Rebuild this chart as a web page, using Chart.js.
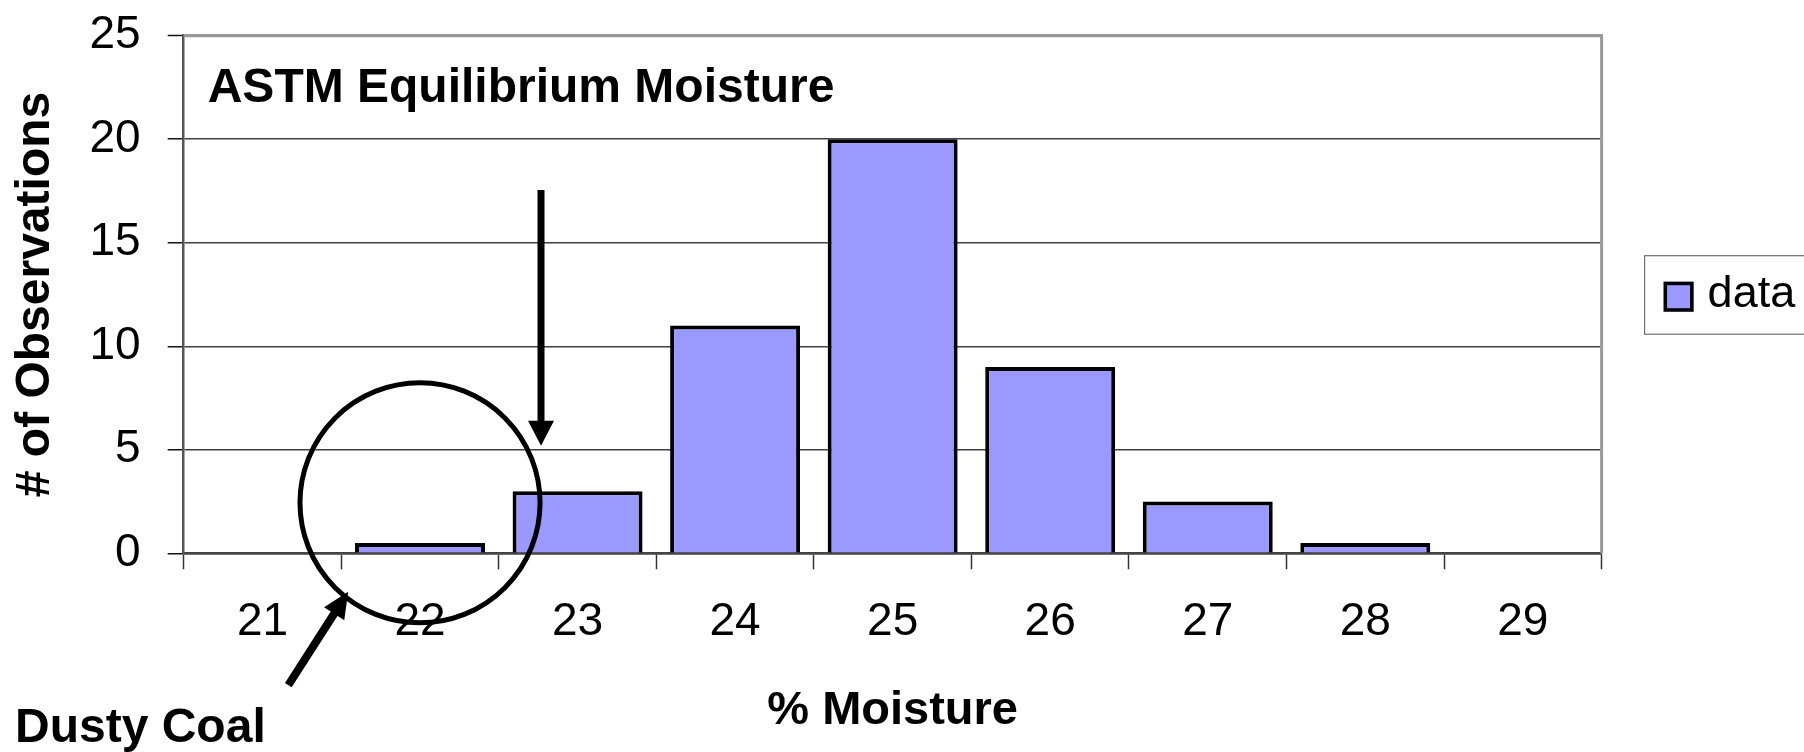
<!DOCTYPE html>
<html>
<head>
<meta charset="utf-8">
<title>ASTM Equilibrium Moisture</title>
<script src="https://cdn.jsdelivr.net/npm/chart.js@4/dist/chart.umd.min.js"></script>
<style>
  html, body { margin: 0; padding: 0; background: #ffffff; }
  #wrap { width: 1804px; height: 752px; }
</style>
</head>
<body>
<div id="wrap"><canvas id="chart" width="1804" height="752"></canvas></div>
<script>
// Histogram of equilibrium moisture results
const categories = ['21', '22', '23', '24', '25', '26', '27', '28', '29'];
const counts = [0, 0.5, 3, 11, 20, 9, 2.5, 0.5, 0];
const yTicks = [0, 5, 10, 15, 20, 25];
const seriesName = 'data';
const chartTitle = 'ASTM Equilibrium Moisture';
const xTitle = '% Moisture';
const yTitle = '# of Observations';
const noteText = 'Dusty Coal';

// Annotation geometry in data space: x as category index, y as count
const ringCenter = { x: 1.0, y: 2.44 };
const ringRadius = 0.762;                       // in category widths
const downArrow = { from: { x: 1.768, y: 17.55 }, to: { x: 1.768, y: 5.2 } };
const noteArrow = { from: { x: 0.164, y: -6.37 }, to: { x: 0.544, y: -1.86 } };

const FONT = "'Liberation Sans', Arial, Helvetica, sans-serif";

function drawArrow(ctx, x1, y1, x2, y2, shaft, headLen, headWidth) {
  const ang = Math.atan2(y2 - y1, x2 - x1);
  const bx = x2 - Math.cos(ang) * headLen;
  const by = y2 - Math.sin(ang) * headLen;
  ctx.save();
  ctx.strokeStyle = '#000';
  ctx.fillStyle = '#000';
  ctx.lineWidth = shaft;
  ctx.lineCap = 'butt';
  ctx.beginPath();
  ctx.moveTo(x1, y1);
  ctx.lineTo(bx + Math.cos(ang) * 2, by + Math.sin(ang) * 2);
  ctx.stroke();
  const px = -Math.sin(ang), py = Math.cos(ang);
  ctx.beginPath();
  ctx.moveTo(x2, y2);
  ctx.lineTo(bx + px * headWidth / 2, by + py * headWidth / 2);
  ctx.lineTo(bx - px * headWidth / 2, by - py * headWidth / 2);
  ctx.closePath();
  ctx.fill();
  ctx.restore();
}

const decorations = {
  id: 'decorations',
  afterDatasetsDraw(chart) {
    const { ctx, chartArea, scales } = chart;
    const xs = scales.x, ys = scales.y;
    const px = v => xs.getPixelForValue(v);
    const py = v => ys.getPixelForValue(v);
    const catW = xs.getPixelForValue(1) - xs.getPixelForValue(0);

    // gray frame on the top and right of the plot
    ctx.save();
    ctx.strokeStyle = '#999999';
    ctx.lineWidth = 3;
    ctx.beginPath();
    ctx.moveTo(chartArea.left, chartArea.top);
    ctx.lineTo(chartArea.right, chartArea.top);
    ctx.lineTo(chartArea.right, chartArea.bottom);
    ctx.stroke();
    ctx.restore();

    // chart heading inside the plot
    ctx.save();
    ctx.fillStyle = '#000';
    ctx.font = 'bold 48px ' + FONT;
    ctx.textBaseline = 'alphabetic';
    ctx.textAlign = 'left';
    ctx.fillText(chartTitle, chartArea.left + 24, chartArea.top + 66);
    ctx.restore();

    // ring around the low-moisture bins
    ctx.save();
    ctx.strokeStyle = '#000';
    ctx.lineWidth = 5;
    ctx.beginPath();
    ctx.arc(px(ringCenter.x), py(ringCenter.y), ringRadius * catW, 0, Math.PI * 2);
    ctx.stroke();
    ctx.restore();

    drawArrow(ctx, px(downArrow.from.x), py(downArrow.from.y), px(downArrow.to.x), py(downArrow.to.y), 7, 25, 26);
    drawArrow(ctx, px(noteArrow.from.x), py(noteArrow.from.y), px(noteArrow.to.x), py(noteArrow.to.y), 8, 26, 24);

    // note label below the axis
    ctx.save();
    ctx.fillStyle = '#000';
    ctx.font = 'bold 48px ' + FONT;
    ctx.textAlign = 'left';
    ctx.textBaseline = 'alphabetic';
    ctx.fillText(noteText, 15, 742);
    ctx.restore();

    // legend box
    const ds = chart.data.datasets[0];
    const lx = chartArea.right + 43, ly = chartArea.top + 220;
    ctx.save();
    ctx.strokeStyle = '#6f6f6f';
    ctx.lineWidth = 1.2;
    ctx.strokeRect(lx, ly, 200, 78.5);
    ctx.fillStyle = ds.backgroundColor;
    ctx.fillRect(lx + 19, ly + 26, 30, 30);
    ctx.strokeStyle = ds.borderColor;
    ctx.lineWidth = 3.5;
    ctx.strokeRect(lx + 20.75, ly + 27.75, 26.5, 26.5);
    ctx.fillStyle = '#000';
    ctx.font = '45px ' + FONT;
    ctx.textAlign = 'left';
    ctx.textBaseline = 'alphabetic';
    ctx.fillText(ds.label, lx + 63, ly + 51);
    ctx.restore();
  }
};

new Chart(document.getElementById('chart'), {
  type: 'bar',
  data: {
    labels: categories,
    datasets: [{
      label: seriesName,
      data: counts,
      backgroundColor: '#9999FF',
      borderColor: '#000000',
      borderWidth: 4,
      categoryPercentage: 1.0,
      barPercentage: 0.825
    }]
  },
  options: {
    responsive: false,
    animation: false,
    devicePixelRatio: 1,
    layout: { padding: { left: 0, right: 202.4, top: 35.7, bottom: 0 } },
    plugins: {
      legend: { display: false },
      title: { display: false },
      tooltip: { enabled: false }
    },
    scales: {
      x: {
        afterFit(scale) {
          scale.height = 198.7;
          scale.paddingLeft = 0;
          scale.paddingRight = 0;
        },
        grid: {
          offset: true,
          drawOnChartArea: false,
          drawTicks: true,
          tickLength: 16,
          tickColor: '#333333',
          tickWidth: 1.5
        },
        border: { display: true, color: '#444444', width: 2.5 },
        ticks: {
          color: '#000',
          font: { family: FONT, size: 46 },
          padding: 25.5,
          maxRotation: 0,
          autoSkip: false
        },
        title: {
          display: true,
          text: xTitle,
          color: '#000',
          font: { family: FONT, size: 47, weight: 'bold', lineHeight: 1.2 },
          padding: { top: 0, bottom: 13 }
        }
      },
      y: {
        min: 0,
        max: 25,
        afterFit(scale) {
          scale.width = 183.7;
          scale.paddingTop = 0;
          scale.paddingBottom = 0;
        },
        afterBuildTicks(scale) { scale.ticks = yTicks.map(v => ({ value: v })); },
        grid: {
          color: ctx => (ctx.tick && ctx.tick.value === 25) ? '#999999' : '#404040',
          lineWidth: ctx => (ctx.tick && ctx.tick.value === 25) ? 3 : 1.5,
          drawTicks: true,
          tickLength: 16,
          tickColor: '#111111',
          tickWidth: 1.5
        },
        border: { display: true, color: '#555555', width: 2.5 },
        ticks: {
          color: '#000',
          font: { family: FONT, size: 46 },
          padding: 27
        },
        title: {
          display: true,
          text: yTitle,
          color: '#000',
          font: { family: FONT, size: 48, weight: 'bold', lineHeight: 1.2 },
          padding: { top: 7, bottom: 0 }
        }
      }
    }
  },
  plugins: [decorations]
});
</script>
</body>
</html>
